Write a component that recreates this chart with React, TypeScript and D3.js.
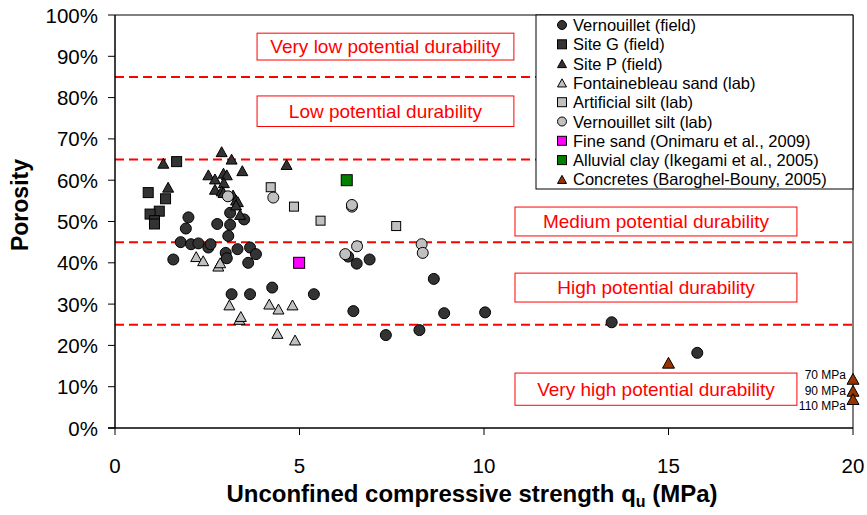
import React from "react";
import * as d3 from "d3";

type Pt = [number, number];

const vernouilletField: Pt[] = [
  [1.58, 40.8], [1.78, 45.0], [1.92, 48.3], [1.99, 51.0], [2.06, 44.5], [2.26, 44.7],
  [2.53, 43.7], [2.59, 44.5], [2.77, 49.4], [3.0, 42.4], [3.03, 41.1], [3.07, 46.5],
  [3.12, 52.1], [3.12, 49.2], [3.32, 43.3], [3.5, 50.5], [3.61, 40.0], [3.66, 43.7],
  [3.82, 42.1], [3.16, 32.4], [3.66, 32.4], [4.26, 34.0], [5.39, 32.4], [6.32, 41.5],
  [6.55, 39.8], [6.9, 40.8], [6.46, 28.3], [7.34, 22.5], [8.25, 23.7], [8.64, 36.1],
  [8.92, 27.8], [10.03, 28.0], [13.46, 25.6], [15.78, 18.2],
];
const siteG: Pt[] = [
  [1.67, 64.5], [0.9, 57.0], [1.37, 55.5], [1.2, 52.5], [0.95, 51.8], [1.07, 50.2], [1.07, 49.4],
];
const siteP: Pt[] = [
  [1.31, 64.1], [1.44, 58.3], [2.89, 66.9], [3.16, 65.1], [4.65, 63.8], [2.53, 61.3],
  [2.71, 60.3], [2.94, 61.7], [3.03, 61.3], [3.45, 62.3], [2.95, 59.4], [2.71, 57.8],
  [2.89, 57.4], [2.94, 57.0], [3.2, 56.4], [3.28, 55.2], [3.33, 54.8], [3.28, 54.0], [3.39, 51.7],
];
const fontainebleau: Pt[] = [
  [2.2, 41.5], [2.39, 40.5], [2.8, 39.2], [2.85, 40.0], [3.1, 29.8], [3.37, 26.3],
  [3.41, 27.0], [4.18, 30.0], [4.43, 28.8], [4.81, 29.8], [4.4, 22.9], [4.88, 21.3],
];
const artificialSilt: Pt[] = [[4.22, 58.3], [4.85, 53.6], [5.57, 50.2], [7.62, 48.9]];
const vernouilletSilt: Pt[] = [
  [3.06, 56.1], [4.29, 55.8], [6.42, 53.6], [6.42, 54.0], [6.56, 44.0], [6.24, 42.1], [8.31, 44.5], [8.34, 42.4],
];
const fineSand: Pt[] = [[4.99, 40.0]];
const alluvialClay: Pt[] = [[6.28, 60.0]];
const concretes: Pt[] = [[15.0, 15.8], [20, 11.9], [20, 9.0], [20, 7.0]];
const concreteLabels = ["", "70 MPa", "90 MPa", "110 MPa"];

const xTicks = [0, 5, 10, 15, 20];
const yTicks = [0, 10, 20, 30, 40, 50, 60, 70, 80, 90, 100];
const thresholds = [85, 65, 45, 25];
const zoneLabels = [
  "Very low potential durability",
  "Low potential durability",
  "Medium potential durability",
  "High potential durability",
  "Very high potential durability",
];
// box layout in data units: [x0, x1, yTop, yBottom]
const zoneBoxes = [
  [3.85, 10.81, 95.6, 89.1],
  [3.85, 10.81, 80.4, 73.0],
  [10.84, 18.48, 53.5, 46.5],
  [10.84, 18.48, 37.5, 30.5],
  [10.84, 18.48, 13.3, 5.5],
];

type Shape = "circle" | "square" | "triangle";
interface Series { name: string; data: Pt[]; shape: Shape; fill: string; size: number }
const series: Series[] = [
  { name: "Vernouillet (field)", data: vernouilletField, shape: "circle", fill: "#333333", size: 11 },
  { name: "Site G (field)", data: siteG, shape: "square", fill: "#333333", size: 10 },
  { name: "Site P (field)", data: siteP, shape: "triangle", fill: "#333333", size: 11 },
  { name: "Fontainebleau sand (lab)", data: fontainebleau, shape: "triangle", fill: "#C0C0C0", size: 11 },
  { name: "Artificial silt (lab)", data: artificialSilt, shape: "square", fill: "#C0C0C0", size: 9 },
  { name: "Vernouillet silt (lab)", data: vernouilletSilt, shape: "circle", fill: "#C0C0C0", size: 11 },
  { name: "Fine sand (Onimaru et al., 2009)", data: fineSand, shape: "square", fill: "#FF00FF", size: 11 },
  { name: "Alluvial clay (Ikegami et al., 2005)", data: alluvialClay, shape: "square", fill: "#008000", size: 11 },
  { name: "Concretes (Baroghel-Bouny, 2005)", data: concretes, shape: "triangle", fill: "#993300", size: 12 },
];

const FONT = "'Liberation Sans', Arial, sans-serif";

function Marker({ shape, x, y, size, fill }: { shape: Shape; x: number; y: number; size: number; fill: string }) {
  if (shape === "circle") return <circle cx={x} cy={y} r={size / 2} fill={fill} stroke="#000" strokeWidth={1} />;
  if (shape === "square")
    return <rect x={x - size / 2} y={y - size / 2} width={size} height={size} fill={fill} stroke="#000" strokeWidth={1} />;
  const h = size * 0.9;
  const p = `M${x},${y - h / 2}L${x + size / 2},${y + h / 2}L${x - size / 2},${y + h / 2}Z`;
  return <path d={p} fill={fill} stroke="#000" strokeWidth={1} />;
}

export default function App() {
  const W = 867, H = 515;
  const x = d3.scaleLinear().domain([0, 20]).range([115, 853]);
  const y = d3.scaleLinear().domain([0, 100]).range([428, 15]);
  const [x0, x1] = x.range();
  const [y0, y1] = y.range();

  const legX = 536, legY = 15, legW = 317, legH = 174, rowH = 19.3;
  const labelMidY = y(concretes[2][1]);

  return (
    <svg width={W} height={H} style={{ position: "absolute", left: 0, top: 0 }} fontFamily={FONT}>
      <rect width={W} height={H} fill="#fff" />
      {/* threshold lines */}
      {thresholds.map((t) => (
        <line key={t} x1={x0} x2={x1 + 2} y1={y(t)} y2={y(t)} stroke="#FF0000" strokeWidth={2} strokeDasharray="9,5" />
      ))}
      {/* zone boxes */}
      {zoneBoxes.map((b, i) => (
        <g key={i}>
          <rect x={x(b[0])} y={y(b[2])} width={x(b[1]) - x(b[0])} height={y(b[3]) - y(b[2])} fill="#fff" stroke="#FF0000" strokeWidth={1} />
          <text x={(x(b[0]) + x(b[1])) / 2} y={(y(b[2]) + y(b[3])) / 2} textAnchor="middle" dominantBaseline="central" fill="#FF0000" fontSize={19}>
            {zoneLabels[i]}
          </text>
        </g>
      ))}
      {/* frame */}
      <line x1={x0} x2={x1} y1={y1} y2={y1} stroke="#000" strokeWidth={1} />
      <line x1={x1} x2={x1} y1={y1} y2={y0} stroke="#000" strokeWidth={1} />
      {/* y axis */}
      <line x1={x0} x2={x0} y1={y0} y2={y1} stroke="#000" strokeWidth={1.5} />
      {yTicks.map((t) => (
        <g key={t}>
          <line x1={x0 - 7} x2={x0} y1={y(t)} y2={y(t)} stroke="#000" strokeWidth={1} />
          <text x={98} y={y(t)} textAnchor="end" dominantBaseline="central" fontSize={20.5} fill="#000">{`${t}%`}</text>
        </g>
      ))}
      {/* x axis */}
      <line x1={x0 - 7} x2={x1} y1={y0} y2={y0} stroke="#000" strokeWidth={1.5} />
      {xTicks.map((t) => (
        <g key={t}>
          <line x1={x(t)} x2={x(t)} y1={y0} y2={y0 + 7} stroke="#000" strokeWidth={1} />
          <text x={x(t)} y={465} textAnchor="middle" dominantBaseline="central" fontSize={20.5} fill="#000">{t}</text>
        </g>
      ))}
      {/* titles */}
      <text x={472} y={502} textAnchor="middle" fontSize={24} fontWeight="bold" fill="#000">
        Unconfined compressive strength q
        <tspan fontSize={16} dy={5}>u</tspan>
        <tspan dy={-5}> (MPa)</tspan>
      </text>
      <text transform="translate(28,205) rotate(-90)" textAnchor="middle" fontSize={23} fontWeight="bold" fill="#000">Porosity</text>
      {/* legend */}
      <rect x={legX} y={legY} width={legW} height={legH} fill="#fff" stroke="#000" strokeWidth={1} />
      {series.map((s, i) => {
        const cy = legY + 10 + i * rowH;
        return (
          <g key={s.name}>
            <Marker shape={s.shape} x={562} y={cy} size={9} fill={s.fill} />
            <text x={573} y={cy} dominantBaseline="central" fontSize={16.5} fill="#000">{s.name}</text>
          </g>
        );
      })}
      {/* data */}
      {series.map((s) => (
        <g key={s.name}>
          {s.data.map((p, j) => (
            <Marker key={j} shape={s.shape} x={x(p[0])} y={y(p[1])} size={s.size} fill={s.fill} />
          ))}
        </g>
      ))}
      {concreteLabels.map((lab, j) =>
        lab ? (
          <text key={j} x={x1 - 7} y={labelMidY + (j - 2) * 15.5} textAnchor="end" dominantBaseline="central" fontSize={12} fill="#000">
            {lab}
          </text>
        ) : null
      )}
    </svg>
  );
}
